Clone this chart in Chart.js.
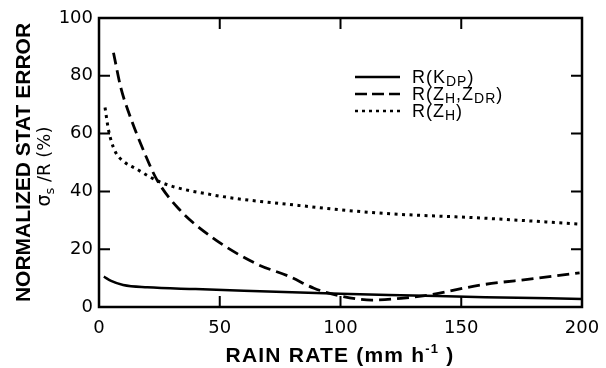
<!DOCTYPE html>
<html>
<head>
<meta charset="utf-8">
<script src="https://cdn.jsdelivr.net/npm/chart.js@4/dist/chart.umd.min.js"></script>
<style>
  html, body { margin: 0; padding: 0; background: #fff; }
  #wrap { width: 606px; height: 368px; position: relative; }
</style>
</head>
<body>
<div id="wrap"><canvas id="c" width="606" height="368"></canvas></div>
<script>
// Rain rate (mm/h) and normalized statistical error (%) for each estimator
const kdpRate   = [2, 5, 10, 20, 40, 70, 100, 130, 160, 200];
const kdpError  = [10.5, 9.0, 7.6, 6.8, 6.2, 5.4, 4.6, 4.0, 3.4, 2.8];

const zdrRate   = [6, 9, 12, 19, 24, 33, 47, 65, 79, 89, 100, 113, 125, 137, 158, 180, 199];
const zdrError  = [88, 76, 68, 53, 44, 34, 24, 15, 10.5, 6.5, 3.8, 2.4, 3.0, 4.2, 7.6, 9.8, 11.8];

const zhRate    = [2.5, 4, 6.6, 10, 15, 26, 47, 81, 116, 158, 199];
const zhError   = [69, 61, 54, 50.5, 48, 43, 38.8, 35.3, 32.5, 30.8, 28.7];

const xTicks = [0, 50, 100, 150, 200];
const yTicks = [0, 20, 40, 60, 80, 100];

// Legend entries as [text, isSubscript] pieces
const legendItems = [
  { parts: [['R(K', 0], ['DP', 1], [')', 0]], dash: [] },
  { parts: [['R(Z', 0], ['H', 1], [',Z', 0], ['DR', 1], [')', 0]], dash: [12, 5] },
  { parts: [['R(Z', 0], ['H', 1], [')', 0]], dash: [3, 4] }
];

const pts = (xs, ys) => xs.map((x, i) => ({ x: x, y: ys[i] }));

const TICK_FONT = { family: 'DejaVu Sans', size: 18 };

const framePlugin = {
  id: 'frame',
  afterDatasetsDraw(chart) {
    const { ctx, chartArea: a, scales: { x, y } } = chart;
    ctx.save();
    ctx.strokeStyle = '#000';
    ctx.lineWidth = 2.5;
    ctx.strokeRect(a.left, a.top, a.right - a.left, a.bottom - a.top);
    const L = 11;
    ctx.lineWidth = 2;
    ctx.beginPath();
    xTicks.forEach(v => {
      const px = x.getPixelForValue(v);
      ctx.moveTo(px, a.bottom); ctx.lineTo(px, a.bottom - L);
      ctx.moveTo(px, a.top); ctx.lineTo(px, a.top + L);
    });
    yTicks.forEach(v => {
      const py = y.getPixelForValue(v);
      ctx.moveTo(a.left, py); ctx.lineTo(a.left + L, py);
      ctx.moveTo(a.right, py); ctx.lineTo(a.right - L, py);
    });
    ctx.stroke();

    // Legend
    const lx0 = 355, lx1 = 400, tx = 412;
    const rows = [77, 94, 111];
    ctx.letterSpacing = '1px';
    legendItems.forEach((it, i) => {
      const ry = rows[i];
      ctx.lineWidth = 2.5;
      ctx.setLineDash(it.dash);
      ctx.beginPath();
      ctx.moveTo(lx0, ry); ctx.lineTo(lx1, ry);
      ctx.stroke();
      ctx.setLineDash([]);
      let cx = tx;
      ctx.fillStyle = '#000';
      ctx.textBaseline = 'alphabetic';
      it.parts.forEach(([t, sub]) => {
        ctx.font = sub ? '14px "Liberation Sans"' : '18px "Liberation Sans"';
        ctx.fillText(t, cx, ry + (sub ? 9 : 6));
        cx += ctx.measureText(t).width;
      });
    });
    ctx.letterSpacing = '0px';

    // Y axis titles
    const cy = (a.top + a.bottom) / 2;
    ctx.save();
    ctx.translate(30, cy);
    ctx.rotate(-Math.PI / 2);
    ctx.textAlign = 'center';
    ctx.textBaseline = 'alphabetic';
    ctx.font = 'bold 21px "Liberation Sans"';
    ctx.fillText('NORMALIZED STAT ERROR', 0, 0);
    // second line: sigma_s /R (%)
    const pieces = [['σ', 0, '19px "DejaVu Sans"'], ['s', 1, '13px "DejaVu Sans"'], [' /R (%)', 0, '18px "DejaVu Sans"']];
    let w = 0;
    pieces.forEach(p => { ctx.font = p[2]; w += ctx.measureText(p[0]).width; });
    let sx = -w / 2 - 4;
    ctx.textAlign = 'left';
    pieces.forEach(p => {
      ctx.font = p[2];
      ctx.fillText(p[0], sx, 20 + (p[1] ? 4 : 0));
      sx += ctx.measureText(p[0]).width;
    });
    ctx.restore();

    // X axis title
    ctx.textBaseline = 'alphabetic';
    ctx.textAlign = 'left';
    ctx.letterSpacing = '1.2px';
    const mid = 340;
    const main = 'RAIN RATE (mm h';
    ctx.font = 'bold 21px "Liberation Sans"';
    const w1 = ctx.measureText(main).width;
    ctx.font = 'bold 13px "Liberation Sans"';
    const w2 = ctx.measureText('-1').width;
    ctx.font = 'bold 21px "Liberation Sans"';
    const w3 = ctx.measureText(' )').width;
    let bx = mid - (w1 + w2 + w3) / 2;
    ctx.fillText(main, bx, 362); bx += w1;
    ctx.font = 'bold 13px "Liberation Sans"';
    ctx.fillText('-1', bx, 353); bx += w2;
    ctx.font = 'bold 21px "Liberation Sans"';
    ctx.fillText(' )', bx, 362);
    ctx.letterSpacing = '0px';
    ctx.restore();
  }
};

new Chart(document.getElementById('c'), {
  type: 'line',
  data: {
    datasets: [
      { label: 'R(KDP)', data: pts(kdpRate, kdpError), borderColor: '#000', borderWidth: 2.5,
        pointRadius: 0, cubicInterpolationMode: 'monotone', fill: false },
      { label: 'R(ZH,ZDR)', data: pts(zdrRate, zdrError), borderColor: '#000', borderWidth: 2.8,
        borderDash: [12, 6], pointRadius: 0, cubicInterpolationMode: 'monotone', fill: false },
      { label: 'R(ZH)', data: pts(zhRate, zhError), borderColor: '#000', borderWidth: 3,
        borderDash: [3, 4.5], pointRadius: 0, cubicInterpolationMode: 'monotone', fill: false }
    ]
  },
  options: {
    responsive: false,
    animation: false,
    layout: { padding: { left: 0, right: 24, top: 18, bottom: 0 } },
    plugins: { legend: { display: false }, tooltip: { enabled: false } },
    scales: {
      x: {
        type: 'linear', min: 0, max: 200,
        afterBuildTicks: s => { s.ticks = xTicks.map(v => ({ value: v })); },
        afterFit: s => { s.height = 61; s.paddingLeft = 0; s.paddingRight = 0; },
        grid: { display: false, drawTicks: false },
        border: { display: false },
        ticks: { font: TICK_FONT, color: '#000', padding: 11, maxRotation: 0 }
      },
      y: {
        type: 'linear', min: 0, max: 100,
        afterBuildTicks: s => { s.ticks = yTicks.map(v => ({ value: v })); },
        afterFit: s => { s.width = 99; s.paddingTop = 0; s.paddingBottom = 0; },
        grid: { display: false, drawTicks: false },
        border: { display: false },
        ticks: { font: TICK_FONT, color: '#000', padding: 6 }
      }
    }
  },
  plugins: [framePlugin]
});
</script>
</body>
</html>
